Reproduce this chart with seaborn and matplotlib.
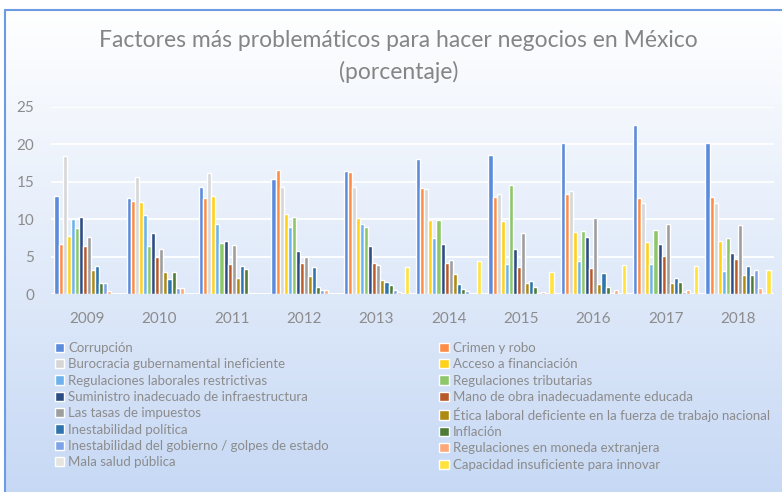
import matplotlib.pyplot as plt
import pandas as pd
import seaborn as sns
import numpy as np
from matplotlib.lines import Line2D

sns.set_theme(style="white")
plt.rcParams['font.family'] = ['Lato', 'DejaVu Sans']

years = ['2009', '2010', '2011', '2012', '2013', '2014', '2015', '2016', '2017', '2018']

factors = [
    'Corrupción',
    'Crimen y robo',
    'Burocracia gubernamental ineficiente',
    'Acceso a financiación',
    'Regulaciones laborales restrictivas',
    'Regulaciones tributarias',
    'Suministro inadecuado de infraestructura',
    'Mano de obra inadecuadamente educada',
    'Las tasas de impuestos',
    'Ética laboral deficiente en la fuerza de trabajo nacional',
    'Inestabilidad política',
    'Inflación',
    'Inestabilidad del gobierno / golpes de estado',
    'Regulaciones en moneda extranjera',
    'Mala salud pública',
    'Capacidad insuficiente para innovar',
]

corrupcion = [13.1, 12.8, 14.3, 15.3, 16.4, 18.0, 18.6, 20.2, 22.5, 20.2]
crimen = [6.7, 12.4, 12.8, 16.5, 16.3, 14.1, 13.0, 13.4, 12.8, 12.9]
burocracia = [18.4, 15.6, 16.1, 14.3, 14.3, 14.0, 13.4, 13.7, 12.1, 12.1]
acceso = [7.7, 12.3, 13.1, 10.7, 10.1, 9.9, 9.8, 8.3, 7.0, 7.1]
reg_laborales = [10.0, 10.5, 9.3, 9.0, 9.3, 7.5, 4.0, 4.4, 4.0, 3.1]
reg_tributarias = [8.8, 6.4, 6.8, 10.3, 9.0, 9.9, 14.6, 8.4, 8.6, 7.5]
suministro = [10.3, 8.1, 7.1, 5.7, 6.4, 6.7, 6.0, 7.6, 6.7, 5.5]
mano_obra = [6.4, 5.0, 4.0, 4.1, 4.2, 4.1, 3.6, 3.5, 5.1, 4.7]
tasas = [7.6, 6.0, 6.5, 4.9, 3.9, 4.5, 8.1, 10.1, 9.4, 9.2]
etica = [3.2, 3.0, 2.1, 2.4, 1.9, 2.7, 1.5, 1.4, 1.5, 2.5]
inest_politica = [3.8, 2.0, 3.8, 3.6, 1.6, 1.4, 1.7, 2.8, 2.2, 3.8]
inflacion = [1.5, 3.0, 3.3, 1.0, 1.2, 0.7, 1.0, 1.0, 1.6, 2.6]
inest_gobierno = [1.5, 0.8, 0.2, 0.6, 0.5, 0.4, 0.2, 0.2, 0.3, 3.2]
reg_moneda = [0.35, 0.8, 0.2, 0.5, 0.3, 0.2, 0.3, 0.5, 0.6, 0.8]
salud = [0, 0, 0, 0, 0, 0, 0, 0, 0, 0]
capacidad = [0, 0, 0, 0, 3.6, 4.4, 3.0, 3.9, 3.7, 3.2]

series = [corrupcion, crimen, burocracia, acceso, reg_laborales, reg_tributarias,
          suministro, mano_obra, tasas, etica, inest_politica, inflacion,
          inest_gobierno, reg_moneda, salud, capacidad]

colors = ['#5B8BDD', '#FF8C45', '#D6D6D6', '#FFD21A', '#6DB2EC', '#8DC76A',
          '#2E4C84', '#B8592A', '#9E9E9E', '#AD8A12', '#2F74AE', '#4E7B38',
          '#7FA3E8', '#FCA878', '#E6E4DE', '#FFE23A']

# long format table for seaborn
rows = []
for name, vals in zip(factors, series):
    for y, v in zip(years, vals):
        rows.append({'Año': y, 'Factor': name, 'Valor': v})
df = pd.DataFrame(rows)

fig = plt.figure(figsize=(7.82, 4.92), dpi=100)

# background gradient (white -> light blue) with frame
bg = fig.add_axes([0, 0, 1, 1], zorder=-10)
grad = np.linspace(0, 1, 256).reshape(-1, 1)
top_c = np.array([1.0, 1.0, 1.0])
bot_c = np.array([0.78, 0.85, 0.96])
img = top_c + (bot_c - top_c) * grad[..., None]
bg.imshow(img, aspect='auto', extent=[0.007, 1, 0, 0.98], origin='upper')
bg.set_xlim(0, 1)
bg.set_ylim(0, 1)
bg.axis('off')
fig.add_artist(Line2D([0.007, 0.007], [0, 0.98], color='#6B9BE3', lw=1.5, transform=fig.transFigure))
fig.add_artist(Line2D([0.007, 1], [0.98, 0.98], color='#6B9BE3', lw=1.5, transform=fig.transFigure))

ax = fig.add_axes([0.065, 0.4024, 0.925, 0.3806])
ax.patch.set_alpha(0)
sns.barplot(data=df, x='Año', y='Valor', hue='Factor', hue_order=factors,
            palette=colors, width=0.9, gap=0, saturation=1, ax=ax)

ax.set_ylim(0, 25)
ax.set_yticks([0, 5, 10, 15, 20, 25])
ax.set_xlabel('')
ax.set_ylabel('')
ax.grid(axis='y', color='white', lw=1.3)
ax.set_axisbelow(True)
for s in ax.spines.values():
    s.set_visible(False)
ax.axhline(0, color='#F2F6FC', lw=1.3, zorder=0.5)
ax.tick_params(axis='both', length=0, colors='#8C8C8C', labelsize=11)
ax.tick_params(axis='y', pad=12)
ax.tick_params(axis='x', pad=13)

handles, labels = ax.get_legend_handles_labels()
ax.get_legend().remove()

leg_kw = dict(frameon=False, fontsize=9.5, labelcolor='#8C8C8C', handlelength=0.7,
              handleheight=0.7, handletextpad=0.35, labelspacing=0.33, borderaxespad=0)
fig.legend(handles[0::2], labels[0::2], loc='upper left', bbox_to_anchor=(0.063, 0.316), **leg_kw)
fig.legend(handles[1::2], labels[1::2], loc='upper left', bbox_to_anchor=(0.555, 0.316), **leg_kw)

fig.text(0.51, 0.918, 'Factores más problemáticos para hacer negocios en México',
         ha='center', va='center', fontsize=16.5, color='#858585')
fig.text(0.51, 0.853, '(porcentaje)', ha='center', va='center', fontsize=16.5,
         color='#858585')

plt.savefig('out.png', dpi=100)
